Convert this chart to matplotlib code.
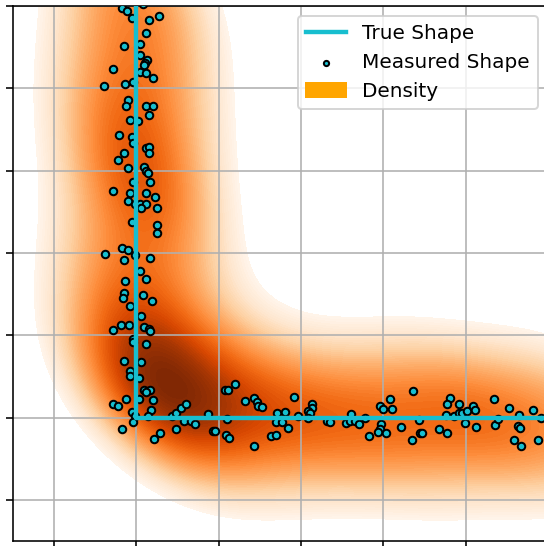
import numpy as np
import matplotlib.pyplot as plt
from matplotlib.patches import Patch

# true L-shaped outline
true_x = [0, 0, 6]
true_y = [6, 0, 0]

# measured points along the vertical side
vert_x = [-0.18, -0.11, -0.05, 0.27, 0.15, 0.12, -0.15, 0.04, 0.04, 0.13,
          0.10, 0.09, -0.28, 0.04, 0.12, 0.20, -0.04, -0.14, -0.40, -0.10,
          -0.13, 0.11, 0.20, 0.15, -0.08, 0.02, -0.21, -0.06, -0.04, 0.12,
          0.15, 0.15, -0.15, -0.22, -0.10, 0.09, 0.12, 0.14, -0.04, 0.16,
          -0.28, -0.08, 0.12, 0.23, -0.10, -0.02, 0.04, 0.12, 0.06, 0.25,
          -0.06, 0.25, 0.25, -0.17, -0.10, -0.38, -0.02, -0.15, 0.16, 0.04,
          0.11, -0.14, -0.15, -0.16, 0.08, 0.19, -0.08, 0.06, -0.28, -0.19,
          -0.09, 0.09, 0.15, 0.17, -0.04, -0.04, 0.12, -0.15, 0.06, -0.08,
          -0.08, 0.03, 0.09, 0.17, 0.11, -0.13, 0.03, 0.20, -0.28, -0.23,
          -0.05, 0.18, -0.02, 0.14, -0.04, -0.18, 0.29, 0.21,
          0.08, -0.12, 0.19, -0.05, 0.13, -0.21, 0.02, 0.16, -0.09, 0.07,
          -0.16, 0.22, -0.03, 0.11, -0.25, 0.05, 0.14, -0.07]
vert_y = [4.97, 4.94, 4.86, 4.88, 4.83, 4.67, 4.51, 4.54, 4.40, 4.34,
          4.31, 4.28, 4.24, 4.20, 4.19, 4.13, 4.08, 4.05, 4.03, 3.86,
          3.78, 3.79, 3.78, 3.67, 3.61, 3.60, 3.43, 3.41, 3.33, 3.27,
          3.29, 3.22, 3.22, 3.13, 3.03, 3.05, 3.00, 2.97, 2.86, 2.86,
          2.75, 2.73, 2.73, 2.68, 2.63, 2.60, 2.60, 2.60, 2.54, 2.54,
          2.37, 2.34, 2.24, 2.06, 2.03, 1.99, 1.98, 1.91, 1.94, 1.78,
          1.68, 1.66, 1.51, 1.45, 1.49, 1.41, 1.35, 1.23, 1.06, 1.12,
          1.12, 1.10, 1.08, 1.05, 0.96, 0.92, 0.89, 0.69, 0.67, 0.56,
          0.50, 0.48, 0.34, 0.34, 0.31, 0.22, 0.22, 0.21, 0.17, 0.14,
          0.07, 0.09, 0.02, 0.02, -0.06, -0.14, -0.19, -0.26,
          5.03, 5.09, 5.14, 5.20, 5.27, 5.31, 5.38, 5.44, 5.50, 5.55,
          5.61, 5.67, 5.72, 5.78, 5.84, 5.89, 5.94, 5.99]

# measured points along the horizontal side
horz_x = [0.43, 0.48, 0.54, 0.60, 0.58, 0.66, 0.71, 0.87, 0.48, 0.93,
          0.95, 1.08, 1.11, 1.20, 1.10, 1.09, 1.13, 1.32, 1.43, 1.47,
          1.48, 1.53, 1.43, 1.64, 1.70, 1.71, 1.80, 1.70, 1.77, 1.84,
          1.92, 1.96, 2.13, 2.13, 2.09, 2.11, 2.09, 2.31, 2.35, 2.54,
          2.61, 2.60, 2.66, 2.70, 2.78, 2.82, 2.96, 3.00, 3.08, 3.10,
          2.97, 2.96, 2.93, 3.03, 3.22, 3.36, 3.35, 3.43, 3.44, 3.47,
          3.68, 3.77, 3.81, 3.77, 3.76, 3.86, 3.92, 3.92, 3.96, 4.01,
          3.99, 4.09, 4.11, 4.12, 4.35, 4.36, 4.39, 4.53, 4.65, 4.63,
          4.66, 4.59, 4.67, 4.82, 4.88, 4.92,
          5.02, 5.08, 5.13, 5.19, 5.26, 5.30, 5.37, 5.43, 5.49, 5.56,
          5.60, 5.66, 5.73, 5.78, 5.83, 5.90, 5.95, 5.99]
horz_y = [0.02, 0.05, 0.12, 0.17, -0.04, -0.04, -0.08, 0.04, -0.14, -0.16,
          -0.16, 0.34, 0.34, 0.41, -0.02, -0.21, -0.25, 0.20, 0.24, 0.19,
          0.14, 0.13, -0.34, -0.22, -0.21, 0.06, 0.07, -0.06, -0.06, -0.13,
          0.25, 0.02, 0.17, 0.11, 0.08, 0.05, -0.01, -0.04, -0.06, -0.07,
          0.04, -0.04, -0.04, -0.08, -0.01, -0.22, 0.14, 0.10, 0.23, 0.10,
          -0.08, -0.14, -0.18, -0.19, -0.11, 0.32, -0.27, -0.03, -0.19, -0.19,
          -0.14, -0.19, 0.24, 0.17, 0.03, 0.02, 0.17, 0.06, 0.05, 0.08,
          -0.07, 0.14, 0.09, -0.11, 0.23, -0.09, -0.02, 0.11, 0.03, -0.10,
          -0.13, -0.27, -0.35, 0.09, -0.27, 0.00,
          0.12, -0.18, 0.05, -0.08, 0.21, -0.24, 0.10, -0.02, 0.16, -0.13,
          0.03, 0.27, -0.06, 0.09, -0.20, 0.14, -0.11, 0.04]

meas_x = np.array(vert_x + horz_x)
meas_y = np.array(vert_y + horz_y)

# gaussian kde with scott's bandwidth
pts = np.vstack([meas_x, meas_y])
n = pts.shape[1]
factor = n ** (-1 / 6)
cov = np.cov(pts) * factor ** 2
inv = np.linalg.inv(cov)
bw = np.sqrt(np.diag(cov))
gx = np.linspace(meas_x.min() - 3 * bw[0], meas_x.max() + 3 * bw[0], 250)
gy = np.linspace(meas_y.min() - 3 * bw[1], meas_y.max() + 3 * bw[1], 250)
xx, yy = np.meshgrid(gx, gy)
dx = xx[..., None] - meas_x
dy = yy[..., None] - meas_y
q = inv[0, 0] * dx ** 2 + 2 * inv[0, 1] * dx * dy + inv[1, 1] * dy ** 2
dens = np.exp(-0.5 * q).sum(axis=-1) / (2 * np.pi * np.sqrt(np.linalg.det(cov)) * n)

# evenly spaced levels, cut off the faint tail
levels = np.linspace(0.22 * dens.max(), dens.max(), 60)

fig = plt.figure(figsize=(544 / 144, 546 / 144), dpi=144)
ax = fig.add_axes([13 / 544, 5 / 546, 535 / 544, 535 / 546])

ax.contourf(xx, yy, dens, levels=levels, cmap='Oranges', zorder=1)
sc = ax.scatter(meas_x, meas_y, s=14, c='#17becf', edgecolors='black',
                linewidths=1.0, zorder=3, label='Measured Shape')
ln, = ax.plot(true_x, true_y, color='#17becf', lw=2.2, zorder=4, label='True Shape')

ax.set_xlim(-1.5, 5)
ax.set_ylim(-1.5, 5)
ax.set_xticks(np.arange(-1, 6))
ax.set_yticks(np.arange(-1, 6))
ax.tick_params(labelleft=False, labelbottom=False)
ax.grid(True, color='#b0b0b0', lw=0.8)

ax.legend(handles=[ln, sc, Patch(color='orange', label='Density')],
          loc='upper right', bbox_to_anchor=(538 / 544, 1 - 16 / 546),
          bbox_transform=fig.transFigure, borderaxespad=0, markerscale=0.7)

fig.savefig('out.png', dpi=144)
